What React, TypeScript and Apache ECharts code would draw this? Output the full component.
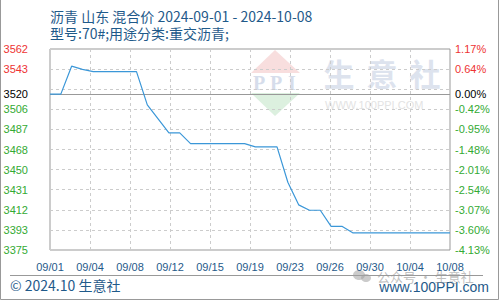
import React, { useEffect, useRef } from 'react';
import * as echarts from 'echarts';

const dates = [
  '2024-09-01', '2024-09-02', '2024-09-03', '2024-09-04', '2024-09-05', '2024-09-06', '2024-09-07',
  '2024-09-08', '2024-09-09', '2024-09-10', '2024-09-11', '2024-09-12', '2024-09-13', '2024-09-14',
  '2024-09-15', '2024-09-16', '2024-09-17', '2024-09-18', '2024-09-19', '2024-09-20', '2024-09-21',
  '2024-09-22', '2024-09-23', '2024-09-24', '2024-09-25', '2024-09-26', '2024-09-27', '2024-09-28',
  '2024-09-29', '2024-09-30', '2024-10-01', '2024-10-02', '2024-10-03', '2024-10-04', '2024-10-05',
  '2024-10-06', '2024-10-07', '2024-10-08',
];
const prices = [
  3520, 3520, 3546, 3543, 3541, 3541, 3541,
  3541, 3541, 3510, 3497, 3484, 3484, 3474,
  3474, 3474, 3474, 3474, 3474, 3471, 3471,
  3471, 3438, 3417, 3412, 3412, 3397, 3397,
  3391, 3391, 3391, 3391, 3391, 3391, 3391,
  3391, 3391, 3391,
];
const xTickLabels = ['09/01', '09/04', '09/08', '09/12', '09/15', '09/19', '09/23', '09/26', '09/30', '10/04', '10/08'];
const leftLabels = ['3375', '3393', '3412', '3431', '3450', '3468', '3487', '3506', '', '3543', '3562'];
const rightLabels = ['-4.13%', '-3.60%', '-3.07%', '-2.54%', '-2.01%', '-1.48%', '-0.95%', '-0.42%', '', '0.64%', '1.17%'];
const baseValue = 3520;
const baseLeftLabel = '3520';
const baseRightLabel = '0.00%';
const yMin = 3375;
const yMax = 3562;
const yStep = 18.7;
const xMax = 37;
const xStep = 3.7;
const titleText = '沥青 山东 混合价 2024-09-01 - 2024-10-08';
const subtitleText = '型号:70#;用途分类:重交沥青;';

const DAY = 86400000;
const t0 = Date.parse(dates[0]);
const dayOffset = (d: string) => Math.round((Date.parse(d) - t0) / DAY);

const RED = '#ee3333';
const GREEN = '#33aa33';
const BLUE_TEXT = '#1f5a8a';
const LABEL_FONT = 'Liberation Sans, Arial, sans-serif';
const CJK_FONT = '"Noto Sans CJK SC", sans-serif';

export default function App() {
  const ref = useRef<HTMLDivElement>(null);
  useEffect(() => {
    if (!ref.current) return;
    const chart = echarts.init(ref.current, null, { renderer: 'svg' });
    const rich = {
      r: { color: RED, fontSize: 11, fontFamily: LABEL_FONT },
      g: { color: GREEN, fontSize: 11, fontFamily: LABEL_FONT },
    };
    const idxOf = (v: number) => Math.round((v - yMin) / yStep);
    const option: any = {
      animation: false,
      grid: { left: 50, right: 50, top: 49, bottom: 50, show: true, borderColor: '#999', borderWidth: 1 },
      xAxis: {
        type: 'value',
        min: 0,
        max: xMax,
        interval: xStep,
        axisLine: { show: false },
        axisTick: { show: false },
        splitLine: { show: true, lineStyle: { color: '#ccc', type: [3, 3], width: 1 } },
        axisLabel: {
          margin: 11,
          color: BLUE_TEXT,
          fontSize: 11,
          fontFamily: LABEL_FONT,
          showMinLabel: true,
          showMaxLabel: true,
          formatter: (v: number) => xTickLabels[Math.round(v / xStep)] ?? '',
        },
      },
      yAxis: [
        {
          type: 'value',
          min: yMin,
          max: yMax,
          interval: yStep,
          position: 'left',
          axisLine: { show: false },
          axisTick: { show: false },
          splitLine: { show: true, lineStyle: { color: '#ccc', type: [3, 3], width: 1 } },
          axisLabel: {
            margin: 22,
            fontSize: 11,
            fontFamily: LABEL_FONT,
            showMinLabel: true,
            showMaxLabel: true,
            rich,
            formatter: (v: number) => {
              const i = idxOf(v);
              const t = leftLabels[i] ?? '';
              if (!t) return '';
              return i > 8 ? `{r|${t}}` : `{g|${t}}`;
            },
          },
        },
        {
          type: 'value',
          min: yMin,
          max: yMax,
          interval: yStep,
          position: 'right',
          axisLine: { show: false },
          axisTick: { show: false },
          splitLine: { show: false },
          axisLabel: {
            margin: 5,
            fontSize: 11,
            fontFamily: LABEL_FONT,
            showMinLabel: true,
            showMaxLabel: true,
            rich,
            formatter: (v: number) => {
              const i = idxOf(v);
              const t = rightLabels[i] ?? '';
              if (!t) return '';
              return i > 8 ? `{r|${t}}` : `{g|${t}}`;
            },
          },
        },
      ],
      series: [
        {
          type: 'line',
          data: dates.map((d, i) => [dayOffset(d), prices[i]]),
          symbol: 'none',
          lineStyle: { color: '#3b97d8', width: 1.2 },
          z: 5,
          markLine: {
            silent: true,
            symbol: 'none',
            lineStyle: { color: '#999', type: 'solid', width: 1.2 },
            data: [
              {
                yAxis: baseValue,
                label: { show: true, position: 'start', distance: 22, formatter: baseLeftLabel, color: '#000', fontSize: 11, fontFamily: LABEL_FONT },
              },
              {
                yAxis: baseValue,
                label: { show: true, position: 'end', distance: 5, formatter: baseRightLabel, color: '#000', fontSize: 11, fontFamily: LABEL_FONT },
              },
            ],
          },
        },
      ],
      graphic: [
        // watermark logo
        { type: 'polygon', z: -10, shape: { points: [[275, 50], [300, 73], [251, 73]] }, style: { fill: '#f8dede' } },
        { type: 'polygon', z: -10, shape: { points: [[251, 93], [300, 93], [275, 116]] }, style: { fill: '#dcf0df' } },
        { type: 'text', z: -10, style: { text: 'P', x: 259, y: 83, fill: '#d6ddeb', font: 'bold 20px "Liberation Serif", serif', align: 'center', verticalAlign: 'middle', textAlign: 'center', textVerticalAlign: 'middle' } },
        { type: 'text', z: -10, style: { text: 'P', x: 276, y: 83, fill: '#d6ddeb', font: 'bold 20px "Liberation Serif", serif', align: 'center', verticalAlign: 'middle', textAlign: 'center', textVerticalAlign: 'middle' } },
        { type: 'text', z: -10, style: { text: 'I', x: 292, y: 83, fill: '#d6ddeb', font: 'bold 20px "Liberation Serif", serif', align: 'center', verticalAlign: 'middle', textAlign: 'center', textVerticalAlign: 'middle' } },
        { type: 'text', z: -10, style: { text: '生', x: 339, y: 72, fill: '#dde3ee', font: 'bold 31px ' + CJK_FONT, align: 'center', verticalAlign: 'middle', textAlign: 'center', textVerticalAlign: 'middle' } },
        { type: 'text', z: -10, style: { text: '意', x: 382, y: 72, fill: '#dde3ee', font: 'bold 31px ' + CJK_FONT, align: 'center', verticalAlign: 'middle', textAlign: 'center', textVerticalAlign: 'middle' } },
        { type: 'text', z: -10, style: { text: '社', x: 425, y: 72, fill: '#dde3ee', font: 'bold 31px ' + CJK_FONT, align: 'center', verticalAlign: 'middle', textAlign: 'center', textVerticalAlign: 'middle' } },
        { type: 'text', z: -10, style: { text: 'WWW.100PPI.COM', x: 325, y: 105, fill: '#e3e3e3', font: '11px ' + LABEL_FONT, align: 'left', verticalAlign: 'middle', textAlign: 'left', textVerticalAlign: 'middle' } },
        // titles
        { type: 'text', style: { text: titleText, x: 50, y: 16, fill: BLUE_TEXT, font: '14px ' + CJK_FONT, align: 'left', verticalAlign: 'middle', textAlign: 'left', textVerticalAlign: 'middle' } },
        { type: 'text', style: { text: subtitleText, x: 50, y: 33, fill: BLUE_TEXT, font: '14px ' + CJK_FONT, align: 'left', verticalAlign: 'middle', textAlign: 'left', textVerticalAlign: 'middle' } },
        // footer
        { type: 'line', shape: { x1: 10, y1: 275.5, x2: 483, y2: 275.5 }, style: { stroke: '#999', lineWidth: 1 } },
        { type: 'text', style: { text: '© 2024.10 生意社', x: 10, y: 285, fill: BLUE_TEXT, font: '14px ' + CJK_FONT, align: 'left', verticalAlign: 'middle', textAlign: 'left', textVerticalAlign: 'middle' } },
        { type: 'text', style: { text: 'www.100PPI.com', x: 489, y: 287, fill: BLUE_TEXT, font: '14px ' + LABEL_FONT, align: 'right', verticalAlign: 'middle', textAlign: 'right', textVerticalAlign: 'middle' } },
        // wechat overlay watermark
        { type: 'ellipse', shape: { cx: 359, cy: 275, rx: 6, ry: 5 }, style: { fill: 'rgba(160,160,160,0.55)' } },
        { type: 'ellipse', shape: { cx: 366, cy: 278, rx: 5, ry: 4 }, style: { fill: 'rgba(160,160,160,0.55)' } },
        { type: 'text', style: { text: '公众号 · 生意社', x: 377, y: 276, fill: 'rgba(150,150,150,0.6)', font: '13px ' + CJK_FONT, align: 'left', verticalAlign: 'middle', textAlign: 'left', textVerticalAlign: 'middle' } },
        // outer frame
        { type: 'polyline', shape: { points: [[0.5, 0], [0.5, 299.5], [498.5, 299.5], [498.5, 0]] }, style: { stroke: '#999', lineWidth: 1, fill: 'none' } },
      ],
    };
    chart.setOption(option);
    return () => chart.dispose();
  }, []);
  return <div ref={ref} style={{ position: 'absolute', left: 0, top: 0, width: 500, height: 300 }} />;
}
